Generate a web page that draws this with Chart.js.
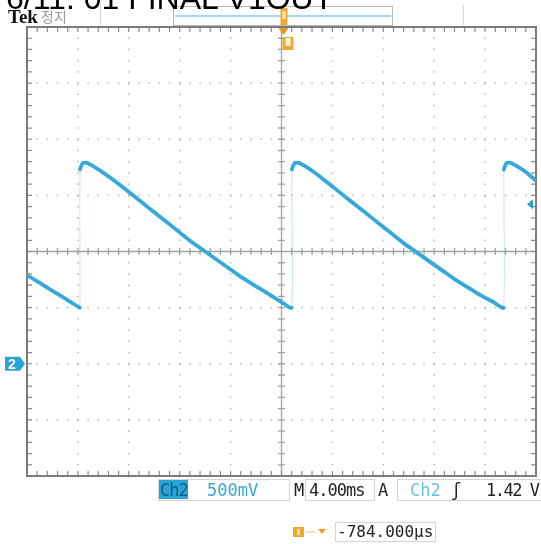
<!DOCTYPE html>
<html>
<head>
<meta charset="utf-8">
<script src="https://cdn.jsdelivr.net/npm/chart.js@4.4.1/dist/chart.umd.min.js"></script>
<style>
  body { margin: 0; background: #fff; }
  #wrap { position: relative; width: 541px; height: 544px; overflow: hidden; font-family: "Liberation Sans", Arial, sans-serif; }
  #scope { position: absolute; left: 0; top: 0; }
  .t { position: absolute; white-space: nowrap; line-height: 1; }
  .mono { font-family: "DejaVu Sans Mono", monospace; font-size: 17px; }
  .box { position: absolute; border: 1px solid #d4d4d4; }
</style>
</head>
<body>
<div id="wrap">
  <canvas id="scope" width="541" height="544"></canvas>

  <!-- header -->
  <div class="t" style="left:6px;top:-18px;font-size:32px;color:#000;">6/11. 01 FINAL V1OUT</div>
  <div class="t" style="left:8px;top:7px;font-size:19px;font-weight:bold;font-family:'Liberation Serif',serif;color:#111;">Tek</div>
  <div class="t" style="left:41px;top:9px;font-size:14px;font-family:'Noto Sans CJK KR',sans-serif;color:#9a9a9a;">정지</div>

  <!-- status line -->
  <div class="box" style="left:158px;top:479px;width:130px;height:20px;"></div>
  <div class="box" style="left:305px;top:479px;width:68px;height:20px;"></div>
  <div class="box" style="left:397px;top:479px;width:150px;height:20px;"></div>
  <div class="t" style="left:159px;top:480px;width:29px;height:19px;background:#2aa3d6;"></div>
  <div class="t mono" style="left:160px;top:482px;color:#0f5f88;letter-spacing:-1px;">Ch2</div>
  <div class="t mono" style="left:207px;top:482px;color:#38a6d9;">500mV</div>
  <div class="t mono" style="left:294px;top:482px;color:#222;">M</div>
  <div class="t mono" style="left:309px;top:482px;color:#222;letter-spacing:-1px;">4.00ms</div>
  <div class="t mono" style="left:378px;top:482px;color:#222;">A</div>
  <div class="t mono" style="left:410px;top:482px;color:#6cbfe3;">Ch2</div>
  <div class="t mono" style="left:451px;top:482px;color:#222;">ʃ</div>
  <div class="t mono" style="left:486px;top:482px;color:#222;letter-spacing:-1.5px;">1.42 V</div>

  <!-- horizontal position readout -->
  <div class="box" style="left:335px;top:522px;width:99px;height:18px;"></div>
  <div class="t mono" style="left:337px;top:524px;font-size:16px;color:#222;">-784.000µs</div>

  <!-- channel 2 ground label -->
  <div class="t" style="left:8px;top:357px;font-size:14px;font-weight:bold;color:#fff;">2</div>
</div>

<script>
// time axis: 4 ms/div, 10 divisions; vertical: 500 mV/div, 8 divisions
const timeTicksMs = [-20, -16, -12, -8, -4, 0, 4, 8, 12, 16, 20];
const voltTicks = [-1.0, -0.5, 0.0, 0.5, 1.0, 1.5, 2.0, 2.5, 3.0];
const triggerLevelV = 1.42;
const triggerPosMs = 0;

// Ch2 sawtooth trace (ms, V)
const traceTimeMs = [
  -20.0, -19.0, -18.0, -17.0, -16.0, -15.85,
  -15.83, -15.6, -15.3, -14.8, -14.0, -13.0, -12.0, -11.0, -10.0, -9.0,
  -8.0, -7.0, -6.0, -5.0, -4.0, -3.0, -2.0, -1.0, 0.0, 0.80,
  0.82, 1.05, 1.35, 1.85, 2.65, 3.65, 4.65, 5.65, 6.65, 7.65,
  8.65, 9.65, 10.65, 11.65, 12.65, 13.65, 14.65, 15.65, 16.65, 17.45,
  17.48, 17.70, 18.00, 18.50, 19.30, 20.00
];
const traceVolts = [
  0.79, 0.72, 0.65, 0.58, 0.51, 0.50,
  1.73, 1.79, 1.79, 1.76, 1.70, 1.62, 1.53, 1.44, 1.35, 1.26,
  1.17, 1.08, 1.00, 0.92, 0.84, 0.76, 0.69, 0.62, 0.55, 0.50,
  1.73, 1.79, 1.79, 1.76, 1.70, 1.61, 1.52, 1.43, 1.34, 1.25,
  1.16, 1.07, 0.99, 0.91, 0.83, 0.75, 0.68, 0.61, 0.55, 0.50,
  1.73, 1.79, 1.79, 1.76, 1.70, 1.63
];

var traceColor = "#36a8dc";

var points = [];
for (var i = 0; i < traceTimeMs.length; i++) {
  points.push({ x: traceTimeMs[i], y: traceVolts[i] });
}

function isEdge(c) {
  return c.p1.parsed.x - c.p0.parsed.x < 0.1;
}

// graticule: dotted divisions, centre cross, framed border with ticks
var graticule = {
  id: "graticule",
  beforeDatasetsDraw: function (chart) {
    var ctx = chart.ctx, a = chart.chartArea;
    var x = chart.scales.x, y = chart.scales.y;
    var xMin = timeTicksMs[0], xMax = timeTicksMs[timeTicksMs.length - 1];
    var yMin = voltTicks[0], yMax = voltTicks[voltTicks.length - 1];
    var xMinor = (timeTicksMs[1] - timeTicksMs[0]) / 5;
    var yMinor = (voltTicks[1] - voltTicks[0]) / 5;
    var nx = Math.round((xMax - xMin) / xMinor);
    var ny = Math.round((yMax - yMin) / yMinor);
    ctx.save();

    ctx.fillStyle = "#bdbdbd";
    timeTicksMs.forEach(function (t, i) {
      if (i === 0 || i === timeTicksMs.length - 1 || t === 0) return;
      var px = x.getPixelForValue(t);
      for (var k = 0; k <= ny; k++) {
        var py = y.getPixelForValue(yMin + k * yMinor);
        ctx.fillRect(px - 0.8, py - 0.8, 1.6, k % 5 === 0 ? 2.2 : 1.6);
      }
    });
    voltTicks.forEach(function (v, j) {
      if (j === 0 || j === voltTicks.length - 1 || v === 1.0) return;
      var py = y.getPixelForValue(v);
      for (var k = 0; k <= nx; k++) {
        var px = x.getPixelForValue(xMin + k * xMinor);
        ctx.fillRect(px - 0.8, py - 0.8, 1.6, 1.6);
      }
    });

    var cx = x.getPixelForValue(0), cy = y.getPixelForValue(1.0);
    ctx.strokeStyle = "#a2a2a2";
    ctx.lineWidth = 1.3;
    ctx.beginPath();
    ctx.moveTo(a.left, cy); ctx.lineTo(a.right, cy);
    ctx.moveTo(cx, a.top); ctx.lineTo(cx, a.bottom);
    for (var k = 1; k < nx; k++) {
      var px = x.getPixelForValue(xMin + k * xMinor);
      ctx.moveTo(px, cy - 3.5); ctx.lineTo(px, cy + 3.5);
    }
    for (var k = 1; k < ny; k++) {
      var py = y.getPixelForValue(yMin + k * yMinor);
      ctx.moveTo(cx - 3.5, py); ctx.lineTo(cx + 3.5, py);
    }
    ctx.stroke();

    ctx.strokeStyle = "#8a8a8a";
    ctx.lineWidth = 1.2;
    ctx.beginPath();
    for (var k = 1; k < nx; k++) {
      var px = x.getPixelForValue(xMin + k * xMinor);
      ctx.moveTo(px, a.top); ctx.lineTo(px, a.top + 5);
      ctx.moveTo(px, a.bottom); ctx.lineTo(px, a.bottom - 5);
    }
    for (var k = 1; k < ny; k++) {
      var py = y.getPixelForValue(yMin + k * yMinor);
      ctx.moveTo(a.left, py); ctx.lineTo(a.left + 5, py);
      ctx.moveTo(a.right, py); ctx.lineTo(a.right - 5, py);
    }
    ctx.stroke();

    ctx.strokeStyle = "#7c7c7c";
    ctx.lineWidth = 2;
    ctx.strokeRect(a.left, a.top, a.right - a.left, a.bottom - a.top);
    ctx.restore();
  },
};

// scope markers: record bar, trigger position, trigger level, ground
var markers = {
  id: "markers",
  afterDraw: function (chart) {
    var ctx = chart.ctx, a = chart.chartArea;
    var x = chart.scales.x, y = chart.scales.y;
    ctx.save();

    // header record bar
    ctx.strokeStyle = "#dadada";
    ctx.lineWidth = 1;
    ctx.beginPath();
    ctx.moveTo(100.5, 5); ctx.lineTo(100.5, 26);
    ctx.moveTo(463.5, 5); ctx.lineTo(463.5, 26);
    ctx.stroke();
    ctx.strokeStyle = "#b9b9b9";
    ctx.strokeRect(173.5, 6.5, 219, 19);
    ctx.strokeStyle = "#a8d6ee";
    ctx.lineWidth = 2;
    ctx.beginPath();
    ctx.moveTo(175, 16); ctx.lineTo(391, 16);
    ctx.stroke();

    // trigger position
    var tx = x.getPixelForValue(triggerPosMs) + 2;
    ctx.fillStyle = "#f0a830";
    ctx.fillRect(tx - 3, 8, 7, 17);
    ctx.fillStyle = "#fbe3b6";
    ctx.fillRect(tx - 1, 11, 3, 8);
    ctx.fillStyle = "#e8961a";
    ctx.beginPath();
    ctx.moveTo(tx - 5, a.top + 1); ctx.lineTo(tx + 5, a.top + 1); ctx.lineTo(tx, a.top + 8);
    ctx.closePath();
    ctx.fill();
    ctx.fillStyle = "#f0a830";
    ctx.fillRect(tx - 1, a.top + 10, 11, 13);
    ctx.fillStyle = "#fff4dc";
    ctx.fillRect(tx + 2, a.top + 11, 5, 8);

    // trigger level arrow
    var ly = y.getPixelForValue(triggerLevelV);
    ctx.fillStyle = "#2b9fd4";
    ctx.beginPath();
    ctx.moveTo(a.right - 9, ly); ctx.lineTo(a.right - 3, ly - 5); ctx.lineTo(a.right - 3, ly + 5);
    ctx.closePath();
    ctx.fill();

    // Ch2 ground marker
    var gy = y.getPixelForValue(0);
    ctx.fillStyle = "#2aa3d6";
    ctx.beginPath();
    ctx.moveTo(5, gy - 7); ctx.lineTo(20, gy - 7); ctx.lineTo(25, gy);
    ctx.lineTo(20, gy + 7); ctx.lineTo(5, gy + 7);
    ctx.closePath();
    ctx.fill();

    // horizontal position icon
    ctx.fillStyle = "#f0a830";
    ctx.fillRect(293, 527, 11, 10);
    ctx.fillStyle = "#fbe3b6";
    ctx.fillRect(297, 529, 3, 6);
    ctx.strokeStyle = "#f6c57a";
    ctx.lineWidth = 1;
    ctx.beginPath();
    ctx.moveTo(306, 532); ctx.lineTo(316, 532);
    ctx.stroke();
    ctx.fillStyle = "#ee9a22";
    ctx.beginPath();
    ctx.moveTo(318, 529); ctx.lineTo(326, 529); ctx.lineTo(322, 534);
    ctx.closePath();
    ctx.fill();

    ctx.restore();
  },
};

var chart = new Chart(document.getElementById("scope").getContext("2d"), {
  type: "line",
  data: {
    datasets: [
      {
        label: "Ch2",
        data: points,
        borderColor: traceColor,
        borderWidth: 3.8,
        pointRadius: 0,
        tension: 0.2,
        borderJoinStyle: "round",
        borderCapStyle: "round",
        segment: {
          borderColor: function (c) { return isEdge(c) ? "rgba(54,168,220,0.3)" : undefined; },
          borderWidth: function (c) { return isEdge(c) ? 1 : undefined; },
        },
      },
    ],
  },
  options: {
    responsive: false,
    animation: false,
    layout: { padding: { left: 27, top: 27, right: 5, bottom: 68 } },
    plugins: { legend: { display: false }, tooltip: { enabled: false } },
    scales: {
      x: { type: "linear", display: false, min: timeTicksMs[0], max: timeTicksMs[timeTicksMs.length - 1] },
      y: { type: "linear", display: false, min: voltTicks[0], max: voltTicks[voltTicks.length - 1] },
    },
  },
  plugins: [graticule, markers],
});
</script>
</body>
</html>
